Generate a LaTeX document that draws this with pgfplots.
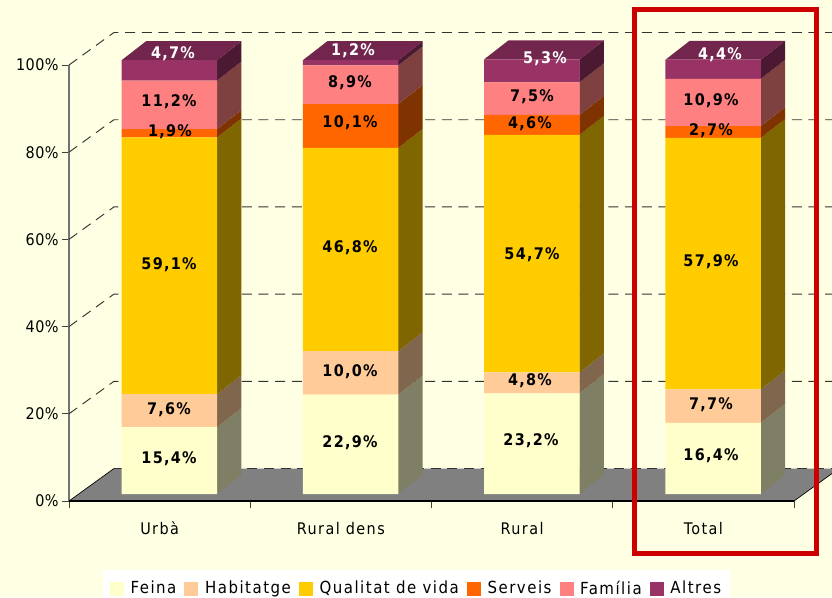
\documentclass[border=0pt]{standalone}
\usepackage{fontspec}
\usepackage{pgfplots}
\pgfplotsset{compat=1.18}
\setmainfont{DejaVu Sans Condensed}[LetterSpace=3]
\newfontfamily\widefont{DejaVu Sans Condensed}[LetterSpace=9]
\newfontfamily\barfont{DejaVu Sans Condensed Bold}[LetterSpace=8]

% reference colours: front faces and the darker side faces
\definecolor{bg}{HTML}{FFFFE3}
\definecolor{feina}{HTML}{FFFFCC}
\definecolor{habit}{HTML}{FFCC99}
\definecolor{qual}{HTML}{FFCC00}
\definecolor{serv}{HTML}{FF6600}
\definecolor{fam}{HTML}{FF8080}
\definecolor{altres}{HTML}{993366}
\definecolor{feinaS}{HTML}{7F7F66}
\definecolor{habitS}{HTML}{7F664C}
\definecolor{qualS}{HTML}{7F6600}
\definecolor{servS}{HTML}{7F3300}
\definecolor{famS}{HTML}{7F4040}
\definecolor{altresS}{HTML}{4C1933}
\definecolor{altresT}{HTML}{73264D}
\definecolor{marc}{HTML}{CC0000}

% one side panel of a bar: colour, front x, back x, y0, y0 back, y1, y1 back
\newcommand{\seg}[7]{\addplot[fill=#1,draw=none] coordinates {(#2,#4) (#3,#5) (#3,#7) (#2,#6)} -- cycle;}
% top panel: front left x, front right x, back right x, back left x, y, y back
\newcommand{\tapa}[6]{\addplot[fill=altresT,draw=none] coordinates {(#1,#5) (#2,#5) (#3,#6) (#4,#6)} -- cycle;}
% text placed by reference pixel (1px = 0.75pt)
\newcommand{\etq}[4][black]{\node[text=#1,font=\fontsize{12pt}{14pt}\barfont] at ({#2*0.75pt},{446.75pt-#3*0.75pt}) {#4};}

\pgfplotstableread{
x    feina habit qual serv fam  altres
0.5  15.4  7.6   59.1 1.9  11.2 4.7
1.5  22.9  10.0  46.8 10.1 8.9  1.2
2.5  23.2  4.8   54.7 4.6  7.5  5.3
3.5  16.4  7.7   57.9 2.7  10.9 4.4
}\dades

\begin{document}
\begin{tikzpicture}
\path[use as bounding box,fill=bg] (0,0) rectangle (624pt,447.75pt);

% walls, floor and scales
\begin{axis}[
    at={(51.75pt,72pt)}, anchor=origin,
    scale only axis, width=543.75pt, height=327pt,
    xmin=0, xmax=4, ymin=0, ymax=100,
    clip=false,
    axis lines=left,
    axis line style={-},
    x axis line style={black,line width=0.8pt},
    y axis line style={gray!90!black,line width=0.8pt},
    tick align=outside, major tick length=5.25pt,
    tick style={black!75,line width=0.6pt},
    xtick={0,1,2,3,4},
    x tick label as interval,
    xticklabels={Urbà,Rural dens,Rural,Total},
    ytick={0,20,40,60,80,100},
    yticklabels={0\%,20\%,40\%,60\%,80\%,100\%},
    y tick label style={font=\fontsize{12pt}{14pt}\selectfont,xshift=1pt},
    x tick label style={font=\fontsize{12pt}{14pt}\widefont,yshift=-7pt},
    ]
\addplot[fill=gray,draw=none] coordinates {(0,0) (4,0) (4.248,7.45) (0.248,7.45)} -- cycle;
\addplot[black,line width=0.5pt] coordinates {(0,0) (0.248,7.45)};
\addplot[black,line width=0.5pt] coordinates {(4,0) (4.248,7.45)};
\addplot[black,line width=0.8pt] coordinates {(0,0) (4,0)};
\addplot[black!80,line width=0.7pt,dash pattern=on 7.5pt off 5pt] coordinates {(0.248,7.45) (4.248,7.45)};
\addplot[black!80,line width=0.7pt,dash pattern=on 7.5pt off 5pt] coordinates {(0,20) (0.248,27.45) (4.248,27.45)};
\addplot[black!80,line width=0.7pt,dash pattern=on 7.5pt off 5pt] coordinates {(0,40) (0.248,47.45) (4.248,47.45)};
\addplot[black!80,line width=0.7pt,dash pattern=on 7.5pt off 5pt] coordinates {(0,60) (0.248,67.45) (4.248,67.45)};
\addplot[black!80,line width=0.7pt,dash pattern=on 7.5pt off 5pt] coordinates {(0,80) (0.248,87.45) (4.248,87.45)};
\addplot[black!80,line width=0.7pt,dash pattern=on 7.5pt off 5pt] coordinates {(0,100) (0.248,107.45) (4.248,107.45)};
\end{axis}

% side and top panels of the bars
\begin{axis}[
    at={(59.03pt,77.25pt)}, anchor=origin,
    scale only axis, width=543.75pt, height=325.7pt,
    xmin=0, xmax=4, ymin=0, ymax=100,
    clip=false, hide axis,
    ]
\seg{feinaS}{0.7629}{0.8975}{0}{4.37}{15.4}{19.77}
\seg{habitS}{0.7629}{0.8975}{15.4}{19.77}{23.0}{27.37}
\seg{qualS}{0.7629}{0.8975}{23.0}{27.37}{82.1}{86.47}
\seg{servS}{0.7629}{0.8975}{82.1}{86.47}{84.0}{88.37}
\seg{famS}{0.7629}{0.8975}{84.0}{88.37}{95.2}{99.57}
\seg{altresS}{0.7629}{0.8975}{95.2}{99.57}{99.9}{104.27}
\tapa{0.2371}{0.7629}{0.8975}{0.3717}{99.9}{104.27}

\seg{feinaS}{1.7629}{1.8975}{0}{4.37}{22.9}{27.27}
\seg{habitS}{1.7629}{1.8975}{22.9}{27.27}{32.9}{37.27}
\seg{qualS}{1.7629}{1.8975}{32.9}{37.27}{79.7}{84.07}
\seg{servS}{1.7629}{1.8975}{79.7}{84.07}{89.8}{94.17}
\seg{famS}{1.7629}{1.8975}{89.8}{94.17}{98.7}{103.07}
\seg{altresS}{1.7629}{1.8975}{98.7}{103.07}{99.9}{104.27}
\tapa{1.2371}{1.7629}{1.8975}{1.3717}{99.9}{104.27}

\seg{feinaS}{2.7629}{2.8975}{0}{4.37}{23.2}{27.57}
\seg{habitS}{2.7629}{2.8975}{23.2}{27.57}{28.0}{32.37}
\seg{qualS}{2.7629}{2.8975}{28.0}{32.37}{82.7}{87.07}
\seg{servS}{2.7629}{2.8975}{82.7}{87.07}{87.3}{91.67}
\seg{famS}{2.7629}{2.8975}{87.3}{91.67}{94.8}{99.17}
\seg{altresS}{2.7629}{2.8975}{94.8}{99.17}{100.1}{104.47}
\tapa{2.2371}{2.7629}{2.8975}{2.3717}{100.1}{104.47}

\seg{feinaS}{3.7629}{3.8975}{0}{4.37}{16.4}{20.77}
\seg{habitS}{3.7629}{3.8975}{16.4}{20.77}{24.1}{28.47}
\seg{qualS}{3.7629}{3.8975}{24.1}{28.47}{82.0}{86.37}
\seg{servS}{3.7629}{3.8975}{82.0}{86.37}{84.7}{89.07}
\seg{famS}{3.7629}{3.8975}{84.7}{89.07}{95.6}{99.97}
\seg{altresS}{3.7629}{3.8975}{95.6}{99.97}{100.0}{104.37}
\tapa{3.2371}{3.7629}{3.8975}{3.3717}{100.0}{104.37}
\end{axis}

% front faces of the bars and the legend
\begin{axis}[
    at={(59.03pt,77.25pt)}, anchor=origin,
    scale only axis, width=543.75pt, height=325.7pt,
    xmin=0, xmax=4, ymin=0, ymax=100,
    clip=false, hide axis,
    ybar stacked, bar width=71.5pt,
    legend columns=6,
    legend cell align=left,
    legend style={
        at={(0.0335,-0.175)}, anchor=north west,
        draw=none, fill=white,
        font=\fontsize{12.5pt}{14pt}\widefont,
        inner xsep=5pt, inner ysep=6pt,
        /tikz/every even column/.style={column sep=4pt},
        /tikz/every odd column/.style={column sep=3pt},
        },
    legend image code/.code={\fill[#1,draw=none] (0pt,-5.25pt) rectangle (10.5pt,5.25pt);},
    ]
\addplot[fill=feina,draw=none] table[y=feina] {\dades};
\addplot[fill=habit,draw=none] table[y=habit] {\dades};
\addplot[fill=qual,draw=none] table[y=qual] {\dades};
\addplot[fill=serv,draw=none] table[y=serv] {\dades};
\addplot[fill=fam,draw=none] table[y=fam] {\dades};
\addplot[fill=altres,draw=none] table[y=altres] {\dades};
\legend{Feina,Habitatge,Qualitat de vida,Serveis,Família,Altres}
\end{axis}

% value labels
\etq[white]{173}{52}{4,7\%}
\etq{169}{100}{11,2\%}
\etq{170}{130}{1,9\%}
\etq{169}{263}{59,1\%}
\etq{169}{408}{7,6\%}
\etq{169}{457}{15,4\%}
\etq[white]{353}{49}{1,2\%}
\etq{350}{81}{8,9\%}
\etq{350}{121}{10,1\%}
\etq{350}{246}{46,8\%}
\etq{350}{370}{10,0\%}
\etq{350}{441}{22,9\%}
\etq[white]{545}{57}{5,3\%}
\etq{532}{95}{7,5\%}
\etq{530}{122}{4,6\%}
\etq{532}{253}{54,7\%}
\etq{530}{379}{4,8\%}
\etq{531}{439}{23,2\%}
\etq[white]{720}{53}{4,4\%}
\etq{711}{99}{10,9\%}
\etq{711}{129}{2,7\%}
\etq{711}{260}{57,9\%}
\etq{711}{403}{7,7\%}
\etq{711}{454}{16,4\%}

% red frame round the Total column
\draw[marc,line width=3.75pt] (475.6pt,440.4pt) rectangle (612.2pt,32.6pt);
\end{tikzpicture}
\end{document}
